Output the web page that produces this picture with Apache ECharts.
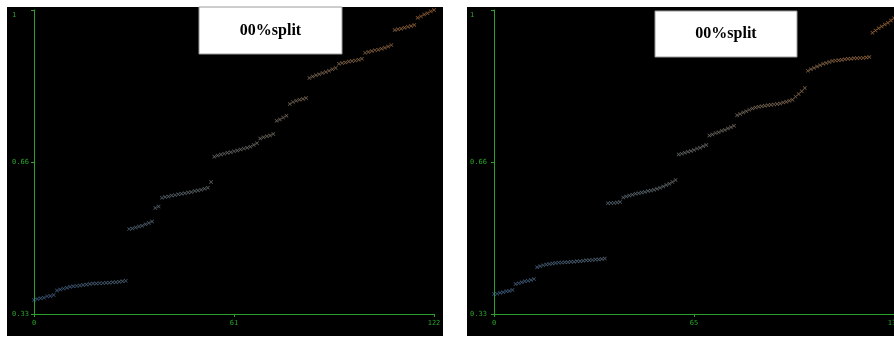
<!DOCTYPE html>
<html>
<head>
<meta charset="utf-8">
<script src="https://cdn.jsdelivr.net/npm/echarts@6/dist/echarts.min.js"></script>
<style>
  html, body { margin: 0; padding: 0; background: #fff; }
  #chart { width: 894px; height: 338px; }
</style>
</head>
<body>
<div id="chart"></div>
<script>
// Sorted split scores, one value per sample index
const leftValues = [
  0.364, 0.366, 0.368, 0.369, 0.372, 0.373, 0.375,
  0.385, 0.387, 0.389, 0.391, 0.393, 0.394, 0.395, 0.396, 0.397, 0.398, 0.399,
  0.400, 0.400, 0.401, 0.401, 0.402, 0.402, 0.403, 0.403, 0.404, 0.405, 0.406,
  0.520, 0.521, 0.523, 0.525, 0.527, 0.530, 0.533, 0.536,
  0.566, 0.569,
  0.588, 0.590, 0.591, 0.593, 0.594, 0.596, 0.597, 0.598, 0.600, 0.601, 0.603,
  0.604, 0.606, 0.608, 0.610,
  0.623,
  0.678, 0.681, 0.683, 0.685, 0.687, 0.688, 0.690, 0.692, 0.694, 0.696, 0.698,
  0.700, 0.704, 0.708,
  0.718, 0.721, 0.723, 0.725, 0.728,
  0.757, 0.760, 0.764, 0.768,
  0.794, 0.798, 0.801, 0.803, 0.805, 0.807,
  0.851, 0.854, 0.857, 0.859, 0.862, 0.864, 0.867, 0.870, 0.873,
  0.882, 0.884, 0.885, 0.887, 0.888, 0.889, 0.891, 0.893,
  0.906, 0.908, 0.910, 0.912, 0.913, 0.915, 0.917, 0.920, 0.923,
  0.956, 0.958, 0.959, 0.961, 0.963, 0.965, 0.967,
  0.983, 0.986, 0.990, 0.993, 0.997, 1.000
];

const rightValues = [
  0.377, 0.378, 0.380, 0.381, 0.383, 0.384, 0.386,
  0.399, 0.401, 0.403, 0.405, 0.406, 0.408, 0.410,
  0.436, 0.438, 0.440, 0.442, 0.443, 0.444, 0.445, 0.446, 0.446, 0.447, 0.447,
  0.448, 0.448, 0.449, 0.449, 0.450, 0.451, 0.451, 0.452, 0.453, 0.453, 0.454, 0.455,
  0.576, 0.577, 0.577, 0.578, 0.579,
  0.589, 0.591, 0.593, 0.595, 0.597, 0.598, 0.600, 0.601, 0.603, 0.604, 0.606,
  0.608, 0.610, 0.613, 0.616, 0.619, 0.623, 0.627,
  0.683, 0.685, 0.687, 0.689, 0.691, 0.693, 0.696, 0.698, 0.701, 0.704,
  0.725, 0.727, 0.730, 0.732, 0.735, 0.737, 0.740, 0.743, 0.746,
  0.769, 0.772, 0.775, 0.778, 0.781, 0.784, 0.786, 0.788, 0.789, 0.790, 0.791,
  0.792, 0.793, 0.794, 0.795, 0.797, 0.799, 0.801, 0.803,
  0.810, 0.816, 0.822, 0.829,
  0.867, 0.870, 0.873, 0.876, 0.879, 0.882, 0.884, 0.886, 0.888, 0.889, 0.890,
  0.891, 0.892, 0.893, 0.893, 0.894, 0.894, 0.895, 0.895, 0.896, 0.897,
  0.950, 0.955, 0.960, 0.964, 0.968, 0.972, 0.977, 0.982
];

const panelTitle = '00%split';
const yTickValues = [1 / 3, 2 / 3, 1];
const yTickLabels = ['0.33', '0.66', '1'];
const leftXTicks = [0, 61, 122];
const rightXTicks = [0, 65, 130];

const GREEN = '#2ca02c';
const CROSS = 'path://M0,1.2L1.2,0L5,3.8L8.8,0L10,1.2L6.2,5L10,8.8L8.8,10L5,6.2L1.2,10L0,8.8L3.8,5Z';
const RAMP = ['#4e79a7', '#868a86', '#c98246'];

function toPairs(values) {
  return values.map((v, i) => [i, v]);
}

function xAxisFor(gridIndex, ticks) {
  return {
    type: 'value', gridIndex,
    min: ticks[0], max: ticks[ticks.length - 1],
    axisLine: { lineStyle: { color: GREEN, width: 1 } },
    axisTick: { show: true, length: 3, customValues: ticks, lineStyle: { color: GREEN } },
    axisLabel: {
      customValues: ticks, color: GREEN, fontSize: 7,
      fontFamily: 'DejaVu Sans Mono', margin: 6
    },
    splitLine: { show: false }
  };
}

function yAxisFor(gridIndex, margin) {
  return {
    type: 'value', gridIndex,
    min: yTickValues[0], max: yTickValues[yTickValues.length - 1],
    axisLine: { show: true, lineStyle: { color: GREEN, width: 1 } },
    axisTick: { show: true, length: 3, customValues: yTickValues, lineStyle: { color: GREEN } },
    axisLabel: {
      customValues: yTickValues, color: GREEN, fontSize: 7,
      fontFamily: 'DejaVu Sans Mono', align: 'left', margin,
      formatter: (v) => {
        const k = yTickValues.findIndex((t) => Math.abs(t - v) < 1e-6);
        const txt = k >= 0 ? yTickLabels[k] : '';
        return k === yTickValues.length - 1 ? '{top|' + txt + '}' : txt;
      },
      rich: { top: { color: GREEN, fontSize: 7, fontFamily: 'DejaVu Sans Mono', padding: [10, 0, 0, 0] } }
    },
    splitLine: { show: false }
  };
}

function titleBox(x, y, w, h) {
  return {
    type: 'group', z: 100,
    children: [
      { type: 'rect', shape: { x, y, width: w, height: h },
        style: { fill: '#fff', stroke: '#9a9a9a', lineWidth: 1 } },
      { type: 'text', x: x + w / 2, y: y + h / 2,
        style: { text: panelTitle, fill: '#000', font: 'bold 16px "Liberation Serif"',
                 align: 'center', verticalAlign: 'middle' } }
    ]
  };
}

const chart = echarts.init(document.getElementById('chart'), null, { renderer: 'canvas' });

chart.setOption({
  backgroundColor: '#fff',
  animation: false,
  graphic: [
    { type: 'rect', z: -10, shape: { x: 7, y: 7, width: 436, height: 329 }, style: { fill: '#000' } },
    { type: 'rect', z: -10, shape: { x: 467, y: 7, width: 427, height: 329 }, style: { fill: '#000' } },
    titleBox(199, 7, 143, 47),
    titleBox(655, 11, 142, 46)
  ],
  grid: [
    { left: 34, top: 10, width: 400, height: 304, outerBoundsMode: 'none' },
    { left: 494, top: 10, width: 400, height: 304, outerBoundsMode: 'none' }
  ],
  xAxis: [xAxisFor(0, leftXTicks), xAxisFor(1, rightXTicks)],
  yAxis: [yAxisFor(0, 22), yAxisFor(1, 24)],
  visualMap: [
    { show: false, type: 'continuous', seriesIndex: 0, dimension: 0,
      min: 0, max: leftValues.length - 1, inRange: { color: RAMP } },
    { show: false, type: 'continuous', seriesIndex: 1, dimension: 0,
      min: 0, max: rightValues.length - 1, inRange: { color: RAMP } }
  ],
  series: [
    { type: 'scatter', xAxisIndex: 0, yAxisIndex: 0, symbol: CROSS, symbolSize: 4,
      data: toPairs(leftValues), itemStyle: { opacity: 0.75 } },
    { type: 'scatter', xAxisIndex: 1, yAxisIndex: 1, symbol: CROSS, symbolSize: 4,
      data: toPairs(rightValues), itemStyle: { opacity: 0.75 } }
  ]
});
</script>
</body>
</html>
